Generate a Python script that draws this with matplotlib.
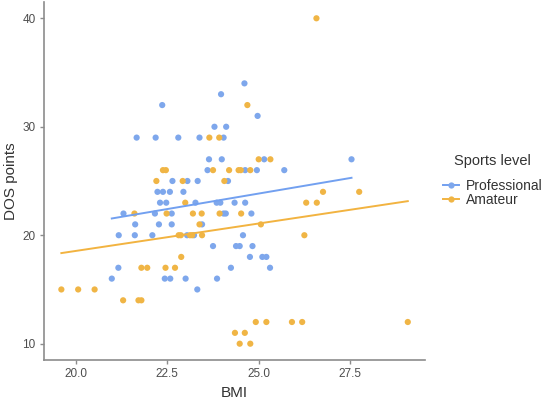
import numpy as np
import matplotlib
matplotlib.use("Agg")
import matplotlib.pyplot as plt
from matplotlib.lines import Line2D

plt.rcParams['font.family'] = ['Liberation Sans', 'DejaVu Sans']

# --- data (BMI, DOS points) ---
pro_bmi = [24.61, 23.97, 22.36, 24.97, 23.79, 24.11,
           21.66, 22.18, 22.80, 23.38, 24.04,
           23.64, 23.99, 25.15, 27.54,
           23.60, 24.63, 24.95, 25.70,
           22.64, 23.05, 23.33, 24.16,
           22.23, 22.38, 22.57, 22.94,
           22.30, 22.47, 23.27, 23.85, 23.95, 24.34, 24.63,
           21.30, 22.16, 22.62, 24.04, 24.10, 24.80,
           21.62, 22.27, 22.62, 23.45,
           21.17, 21.61, 22.09, 23.04, 23.23, 24.57,
           23.75, 24.38, 24.48, 24.83,
           24.76, 25.10, 25.21,
           21.16, 24.24, 25.31,
           20.98, 22.43, 22.58, 23.00, 23.86,
           23.32]
pro_dos = [34, 33, 32, 31, 30, 30,
           29, 29, 29, 29, 29,
           27, 27, 27, 27,
           26, 26, 26, 26,
           25, 25, 25, 25,
           24, 24, 24, 24,
           23, 23, 23, 23, 23, 23, 23,
           22, 22, 22, 22, 22, 22,
           21, 21, 21, 21,
           20, 20, 20, 20, 20, 20,
           19, 19, 19, 19,
           18, 18, 18,
           17, 17, 17,
           16, 16, 16, 16, 16,
           15]

ama_bmi = [26.58, 24.69, 23.65, 23.92, 25.00, 25.32,
           22.38, 22.46, 23.75, 24.19, 24.45, 24.51, 24.77,
           22.20, 22.92, 24.06,
           26.76, 27.75,
           22.99, 26.30, 26.59,
           21.60, 22.48, 23.20, 23.44, 23.93, 24.52,
           23.38, 25.06,
           22.81, 22.87, 23.12, 23.18, 23.45, 26.25,
           22.88,
           21.79, 21.95, 22.45, 22.71,
           19.60, 20.06, 20.51,
           21.29, 21.71, 21.79,
           24.92, 25.21, 25.91, 26.19, 29.08,
           24.35, 24.62,
           24.48, 24.77]
ama_dos = [40, 32, 29, 29, 27, 27,
           26, 26, 26, 26, 26, 26, 26,
           25, 25, 25,
           24, 24,
           23, 23, 23,
           22, 22, 22, 22, 22, 22,
           21, 21,
           20, 20, 20, 20, 20, 20,
           18,
           17, 17, 17, 17,
           15, 15, 15,
           14, 14, 14,
           12, 12, 12, 12, 12,
           11, 11,
           10, 10]

levels = ["Professional", "Amateur"]
colors = ["#7ea7ec", "#f0b545"]
line_colors = ["#72a0f0", "#f2b340"]

fig = plt.figure(figsize=(5.5, 4.04), dpi=100)
ax = fig.add_axes([0.08, 0.109, 0.693, 0.886])

groups = [(pro_bmi, pro_dos), (ama_bmi, ama_dos)]
for (x, y), c, lc in zip(groups, colors, line_colors):
    x = np.array(x)
    y = np.array(y)
    ax.scatter(x, y, s=20, color=c, edgecolors='none', zorder=2)
    # linear fit, like geom_smooth(method="lm", se=FALSE)
    k, b = np.polyfit(x, y, 1)
    xs = np.array([x.min(), x.max()])
    ax.plot(xs, k * xs + b, color=lc, lw=1.4, zorder=3)

ax.set_xlim(19.125, 29.555)
ax.set_ylim(8.5, 41.5)
ax.set_xticks([20.0, 22.5, 25.0, 27.5])
ax.set_xticklabels(["20.0", "22.5", "25.0", "27.5"])
ax.set_yticks([10, 20, 30, 40])

for s in ['top', 'right']:
    ax.spines[s].set_visible(False)
for s in ['left', 'bottom']:
    ax.spines[s].set_color('#8c8c8c')
    ax.spines[s].set_linewidth(1.2)
ax.tick_params(colors='#8c8c8c', labelcolor='#4d4d4d', labelsize=8.5,
               length=3, width=1, pad=3)

ax.set_xlabel("BMI", fontsize=11, color='#333333', labelpad=4)
ax.set_ylabel("DOS points", fontsize=11, color='#333333', labelpad=3)

handles = [Line2D([0], [0], color=lc, marker='o', markersize=4.5,
                  markerfacecolor=c, markeredgewidth=0, lw=1.4)
           for c, lc in zip(colors, line_colors)]
leg = fig.legend(handles, levels, title="Sports level", loc='center left',
                 bbox_to_anchor=(0.805, 0.554), frameon=False, fontsize=10,
                 title_fontsize=10.5, handlelength=1.2, handletextpad=0.45,
                 labelspacing=0.0, borderaxespad=0, borderpad=0)
leg._legend_box.sep = 8  # gap between title and keys
for t in leg.get_texts():
    t.set_color('#333333')
leg.get_title().set_color('#333333')

fig.savefig("out.png", dpi=100)
